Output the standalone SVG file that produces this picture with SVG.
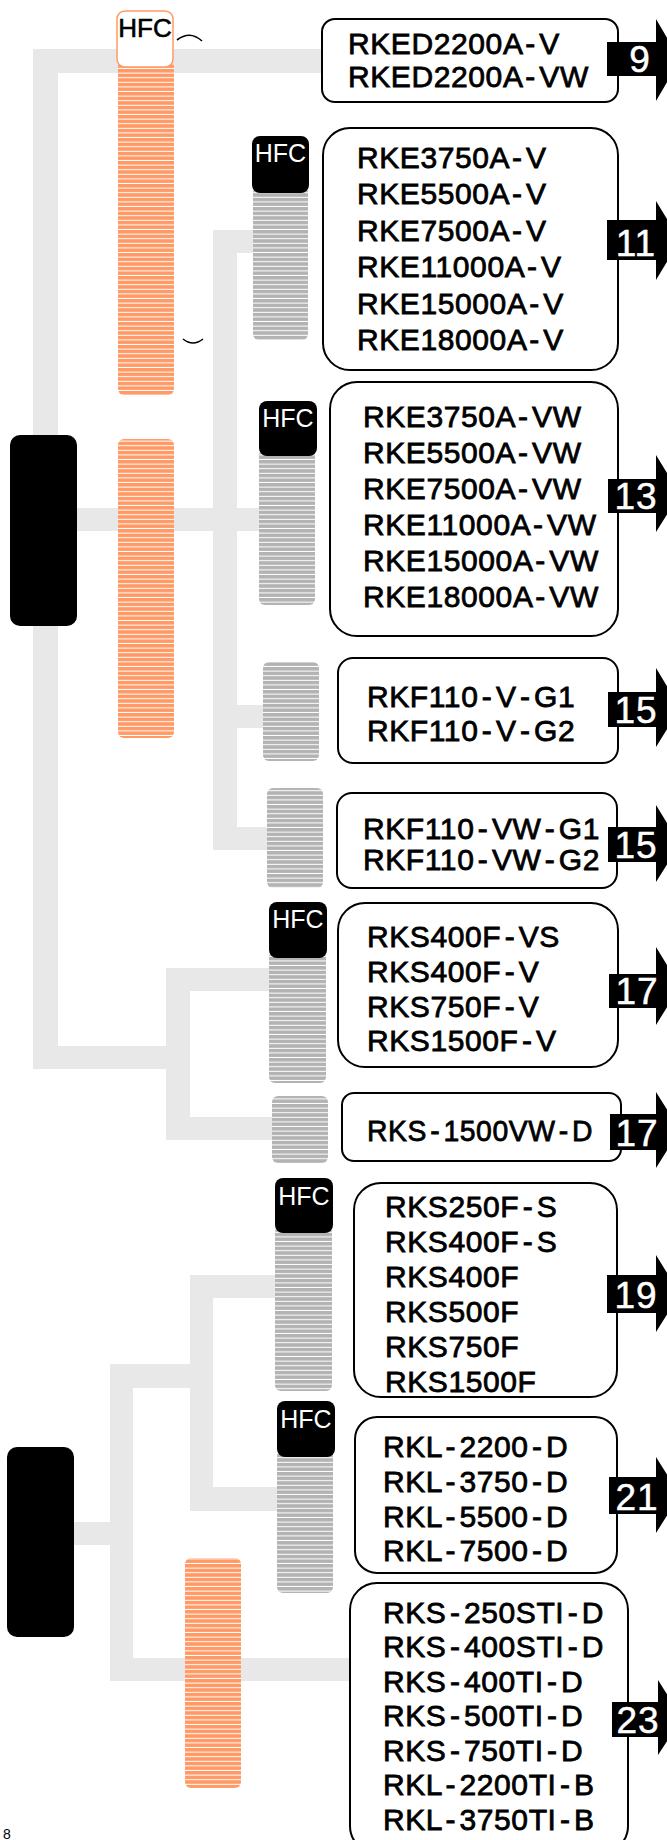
<svg xmlns="http://www.w3.org/2000/svg" width="667" height="1840" viewBox="0 0 667 1840">
<defs>
<pattern id="po" width="10" height="4.6" patternUnits="userSpaceOnUse"><rect width="10" height="4.6" fill="#FF9966"/><rect y="3.6" width="10" height="1" fill="#FFFFFF"/></pattern>
<pattern id="pg" width="10" height="4.6" patternUnits="userSpaceOnUse"><rect width="10" height="4.6" fill="#B3B3B3"/><rect y="3.6" width="10" height="1" fill="#FFFFFF"/></pattern>
</defs>
<style>
.c{fill:#E8E8E8}
.root{fill:#000}
.ob{fill:url(#po)}
.gb{fill:url(#pg)}
.hk{fill:#000}
.hkt{fill:#fff;font-family:"Liberation Sans",Arial,sans-serif;font-size:25px;text-anchor:middle}
.box{fill:#fff;stroke:#000;stroke-width:2}
.t{font-family:"Liberation Sans",Arial,sans-serif;font-size:30px;fill:#000;stroke:#000;stroke-width:0.8;word-spacing:-5.5px;letter-spacing:0.6px}
.ar{fill:#000}
.an{fill:#fff;font-family:"Liberation Sans",Arial,sans-serif;font-size:37px;text-anchor:middle;stroke:#fff;stroke-width:0.5;letter-spacing:1px}
.arc{fill:none;stroke:#000;stroke-width:1.6}
</style>

<g id="connectors">
<rect class="c" x="33" y="49" width="289" height="24"/>
<rect class="c" x="33" y="49" width="25" height="1020"/>
<rect class="c" x="33" y="1046" width="157" height="23"/>
<rect class="c" x="213" y="230" width="24" height="620"/>
<rect class="c" x="213" y="230" width="45" height="23"/>
<rect class="c" x="58" y="508" width="205" height="23"/>
<rect class="c" x="213" y="705" width="52" height="23"/>
<rect class="c" x="213" y="827" width="56" height="23"/>
<rect class="c" x="166" y="968" width="24" height="172"/>
<rect class="c" x="166" y="968" width="105" height="23"/>
<rect class="c" x="166" y="1117" width="108" height="23"/>
<rect class="c" x="74" y="1522" width="59" height="23"/>
<rect class="c" x="110" y="1364" width="23" height="317"/>
<rect class="c" x="110" y="1364" width="103" height="24"/>
<rect class="c" x="190" y="1275" width="23" height="236"/>
<rect class="c" x="190" y="1275" width="88" height="23"/>
<rect class="c" x="190" y="1487" width="88" height="24"/>
<rect class="c" x="110" y="1658" width="242" height="23"/>
</g>

<g id="root1"><rect class="root" x="10" y="435" width="67" height="191" rx="10"/></g>
<g id="root2"><rect class="root" x="7" y="1447" width="67" height="190" rx="10"/></g>

<g id="orange1">
<rect class="ob" x="118" y="60" width="56" height="335" rx="6"/>
<rect x="117" y="11" width="56" height="56" rx="8" fill="#fff" stroke="#FF9966" stroke-width="1.5"/>
<text x="145" y="37" font-family="Liberation Sans, Arial, sans-serif" font-size="26" text-anchor="middle" fill="#000" stroke="#000" stroke-width="0.6">HFC</text>
<path class="arc" d="M177,40 Q190,30 202,41"/>
<path class="arc" d="M183,339 Q193,347 203,339"/>
</g>
<g id="orange2"><rect class="ob" x="118" y="439" width="56" height="299" rx="6"/></g>
<g id="orange3"><rect class="ob" x="185" y="1558" width="56" height="230" rx="6"/></g>

<g id="gray1">
<rect class="gb" x="253" y="186" width="55" height="154" rx="6"/>
<rect class="hk" x="252" y="136" width="57" height="57" rx="8"/>
<text class="hkt" x="280.5" y="162">HFC</text>
</g>
<g id="gray2">
<rect class="gb" x="259" y="449" width="56" height="156" rx="6"/>
<rect class="hk" x="259" y="401" width="58" height="55" rx="8"/>
<text class="hkt" x="288" y="427">HFC</text>
</g>
<g id="gray3"><rect class="gb" x="263" y="662" width="56" height="99" rx="6"/></g>
<g id="gray4"><rect class="gb" x="267" y="788" width="56" height="100" rx="6"/></g>
<g id="gray5">
<rect class="gb" x="269" y="951" width="57" height="132" rx="6"/>
<rect class="hk" x="269" y="902" width="58" height="56" rx="8"/>
<text class="hkt" x="298" y="928">HFC</text>
</g>
<g id="gray6"><rect class="gb" x="272" y="1096" width="56" height="67" rx="6"/></g>
<g id="gray7">
<rect class="gb" x="275" y="1226" width="57" height="165" rx="6"/>
<rect class="hk" x="275" y="1178" width="58" height="55" rx="8"/>
<text class="hkt" x="304" y="1205">HFC</text>
</g>
<g id="gray8">
<rect class="gb" x="277" y="1450" width="56" height="143" rx="6"/>
<rect class="hk" x="277" y="1401" width="58" height="56" rx="8"/>
<text class="hkt" x="306" y="1428">HFC</text>
</g>

<g id="box1">
<rect class="box" x="322" y="19" width="296" height="83" rx="13"/>
<text class="t" x="348" y="54">RKED2200A - V</text>
<text class="t" x="348" y="87">RKED2200A - VW</text>
</g>
<g id="box2">
<rect class="box" x="323" y="128" width="295" height="242" rx="27"/>
<text class="t" x="357" y="168">RKE3750A - V</text>
<text class="t" x="357" y="204">RKE5500A - V</text>
<text class="t" x="357" y="241">RKE7500A - V</text>
<text class="t" x="357" y="277">RKE11000A - V</text>
<text class="t" x="357" y="314">RKE15000A - V</text>
<text class="t" x="357" y="350">RKE18000A - V</text>
</g>
<g id="box3">
<rect class="box" x="330" y="382" width="288" height="254" rx="27"/>
<text class="t" x="363" y="427">RKE3750A - VW</text>
<text class="t" x="363" y="463">RKE5500A - VW</text>
<text class="t" x="363" y="499">RKE7500A - VW</text>
<text class="t" x="363" y="535">RKE11000A - VW</text>
<text class="t" x="363" y="571">RKE15000A - VW</text>
<text class="t" x="363" y="607">RKE18000A - VW</text>
</g>
<g id="box4">
<rect class="box" x="338" y="658" width="280" height="105" rx="15"/>
<text class="t" x="367" y="707">RKF110 - V - G1</text>
<text class="t" x="367" y="741">RKF110 - V - G2</text>
</g>
<g id="box5">
<rect class="box" x="337" y="793" width="280" height="95" rx="15"/>
<text class="t" x="363" y="839">RKF110 - VW - G1</text>
<text class="t" x="363" y="870">RKF110 - VW - G2</text>
</g>
<g id="box6">
<rect class="box" x="338" y="903" width="280" height="164" rx="27"/>
<text class="t" x="367" y="947">RKS400F - VS</text>
<text class="t" x="367" y="982">RKS400F - V</text>
<text class="t" x="367" y="1017">RKS750F - V</text>
<text class="t" x="367" y="1051">RKS1500F - V</text>
</g>
<g id="box7">
<rect class="box" x="342" y="1093" width="279" height="68" rx="12"/>
<text class="t" x="367" y="1141" textLength="226" lengthAdjust="spacingAndGlyphs">RKS - 1500VW - D</text>
</g>
<g id="box8">
<rect class="box" x="354" y="1183" width="263" height="214" rx="27"/>
<text class="t" x="385" y="1217">RKS250F - S</text>
<text class="t" x="385" y="1252">RKS400F - S</text>
<text class="t" x="385" y="1287">RKS400F</text>
<text class="t" x="385" y="1322">RKS500F</text>
<text class="t" x="385" y="1357">RKS750F</text>
<text class="t" x="385" y="1392">RKS1500F</text>
</g>
<g id="box9">
<rect class="box" x="355" y="1417" width="262" height="156" rx="22"/>
<text class="t" x="383" y="1457">RKL - 2200 - D</text>
<text class="t" x="383" y="1492">RKL - 3750 - D</text>
<text class="t" x="383" y="1527">RKL - 5500 - D</text>
<text class="t" x="383" y="1561">RKL - 7500 - D</text>
</g>
<g id="box10">
<rect class="box" x="350" y="1583" width="278" height="270" rx="27"/>
<text class="t" x="383" y="1623">RKS - 250STI - D</text>
<text class="t" x="383" y="1657">RKS - 400STI - D</text>
<text class="t" x="383" y="1692">RKS - 400TI - D</text>
<text class="t" x="383" y="1726">RKS - 500TI - D</text>
<text class="t" x="383" y="1761">RKS - 750TI - D</text>
<text class="t" x="383" y="1795">RKL - 2200TI - B</text>
<text class="t" x="383" y="1830">RKL - 3750TI - B</text>
</g>

<g id="arrow9"><path class="ar" d="M607,42 H656 V19 L680,60 L656,101 V76 H607 Z"/><text class="an" x="640" y="72">9</text></g>
<g id="arrow11"><path class="ar" d="M607,220 H656 V201 L680,240 L656,280 V260 H607 Z"/><text class="an" x="636" y="256">11</text></g>
<g id="arrow13"><path class="ar" d="M608,479 H656 V455 L680,494 L656,532 V513 H608 Z"/><text class="an" x="636" y="509">13</text></g>
<g id="arrow15a"><path class="ar" d="M608,692 H656 V668 L680,708 L656,747 V727 H608 Z"/><text class="an" x="636" y="723">15</text></g>
<g id="arrow15b"><path class="ar" d="M608,827 H656 V805 L680,844 L656,882 V862 H608 Z"/><text class="an" x="636" y="858">15</text></g>
<g id="arrow17a"><path class="ar" d="M609,974 H656 V947 L680,986 L656,1025 V1008 H609 Z"/><text class="an" x="637" y="1004">17</text></g>
<g id="arrow17b"><path class="ar" d="M610,1114 H656 V1092 L680,1130 L656,1168 V1150 H610 Z"/><text class="an" x="637" y="1146">17</text></g>
<g id="arrow19"><path class="ar" d="M607,1275 H656 V1255 L680,1294 L656,1332 V1313 H607 Z"/><text class="an" x="636" y="1308">19</text></g>
<g id="arrow21"><path class="ar" d="M609,1477 H656 V1457 L680,1495 L656,1533 V1514 H609 Z"/><text class="an" x="637" y="1510">21</text></g>
<g id="arrow23"><path class="ar" d="M612,1702 H658 V1680 L682,1718 L658,1755 V1737 H612 Z"/><text class="an" x="638" y="1733">23</text></g>

<text x="3" y="1839" font-family="Liberation Sans, Arial, sans-serif" font-size="14" fill="#000">8</text>
</svg>
